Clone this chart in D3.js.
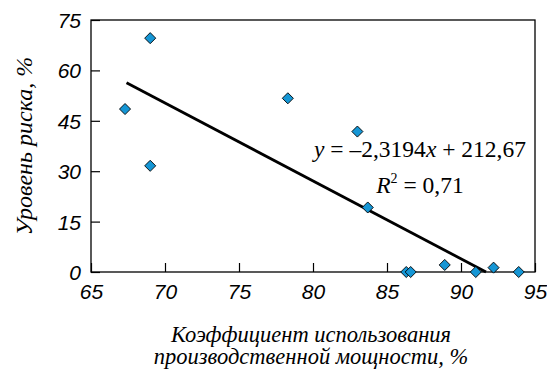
<!DOCTYPE html>
<html>
<head>
<meta charset="utf-8">
<script src="https://cdn.jsdelivr.net/npm/d3@7"></script>
<style>
  body { margin: 0; background: #fff; }
  svg text { fill: #000; }
</style>
</head>
<body>
<div id="chart"></div>
<script>
// capacity utilisation, % vs risk level, %
const utilisation = [67.3, 69.0, 69.0, 78.3, 83.0, 83.7, 86.3, 86.6, 88.9, 91.0, 92.2, 93.9];
const risk = [48.5, 69.6, 31.6, 51.7, 41.8, 19.2, 0, 0, 2.1, 0, 1.3, 0];
const xTicks = [65, 70, 75, 80, 85, 90, 95];
const yTicks = [0, 15, 30, 45, 60, 75];
const slope = -2.3194;
const intercept = 212.67;
const trendX = [67.4, 91.69];

const margin = { top: 20, right: 12, bottom: 98, left: 91 };
const width = 547 - margin.left - margin.right;
const height = 370 - margin.top - margin.bottom;

const svg = d3.select("#chart")
  .append("svg")
  .attr("width", 547)
  .attr("height", 370)
  .append("g")
  .attr("transform", `translate(${margin.left},${margin.top})`);

const x = d3.scaleLinear().domain([65, 95]).range([0, width]);
const y = d3.scaleLinear().domain([0, 75]).range([height, 0]);

const tickFont = "'Liberation Sans', Arial, sans-serif";
const serif = "'Liberation Serif', 'Times New Roman', serif";

const xAxis = svg.append("g")
  .attr("transform", `translate(0,${height})`)
  .call(d3.axisBottom(x).tickValues(xTicks).tickSize(-9).tickSizeOuter(0));

const yAxis = svg.append("g")
  .call(d3.axisLeft(y).tickValues(yTicks).tickSize(-9).tickPadding(10).tickSizeOuter(0));

[xAxis, yAxis].forEach(a => {
  a.select(".domain").remove();
  a.selectAll("line").attr("stroke", "#000").attr("stroke-width", 1.2);
  a.selectAll("text")
    .attr("font-family", tickFont)
    .attr("font-style", "italic")
    .attr("font-size", 21)
    .attr("fill", "#000");
});
xAxis.selectAll("text").attr("dy", "0.71em").attr("y", 12);
yAxis.selectAll("text").attr("dy", "0.36em");

// frame
svg.append("rect")
  .attr("width", width)
  .attr("height", height)
  .attr("fill", "none")
  .attr("stroke", "#000")
  .attr("stroke-width", 1.3);

// trend line
svg.append("line")
  .attr("x1", x(trendX[0]))
  .attr("y1", y(slope * trendX[0] + intercept))
  .attr("x2", x(trendX[1]))
  .attr("y2", y(slope * trendX[1] + intercept))
  .attr("stroke", "#000")
  .attr("stroke-width", 2.8);

// points
const pts = utilisation.map((u, i) => ({ u, r: risk[i] }));
svg.selectAll(".pt")
  .data(pts)
  .enter().append("path")
  .attr("class", "pt")
  .attr("d", d3.symbol().type(d3.symbolDiamond2).size(78))
  .attr("transform", d => `translate(${x(d.u)},${y(d.r)})`)
  .attr("fill", "#1596d5")
  .attr("stroke", "#000")
  .attr("stroke-width", 0.9);

// equation
const eq = svg.append("text")
  .attr("x", 329)
  .attr("y", 137)
  .attr("text-anchor", "middle")
  .attr("font-family", serif)
  .attr("font-size", 23.5);
eq.append("tspan").attr("font-style", "italic").text("y");
eq.append("tspan").text(" = –2,3194");
eq.append("tspan").attr("font-style", "italic").text("x");
eq.append("tspan").text(" + 212,67");

const r2 = svg.append("text")
  .attr("x", 329)
  .attr("y", 173)
  .attr("text-anchor", "middle")
  .attr("font-family", serif)
  .attr("font-size", 23.5);
r2.append("tspan").attr("font-style", "italic").text("R");
r2.append("tspan").attr("font-size", 14).attr("dy", -10).text("2");
r2.append("tspan").attr("dy", 10).text(" = 0,71");

// axis titles
svg.append("text")
  .attr("transform", `translate(${-59},${126}) rotate(-90)`)
  .attr("text-anchor", "middle")
  .attr("font-family", serif)
  .attr("font-style", "italic")
  .attr("font-size", 24)
  .text("Уровень риска, %");

const xt = svg.append("text")
  .attr("text-anchor", "middle")
  .attr("font-family", serif)
  .attr("font-style", "italic")
  .attr("font-size", 22.5);
xt.append("tspan").attr("x", 220).attr("y", 321.5).text("Коэффициент использования");
xt.append("tspan").attr("x", 220).attr("y", 343.5).text("производственной мощности, %");
</script>
</body>
</html>
